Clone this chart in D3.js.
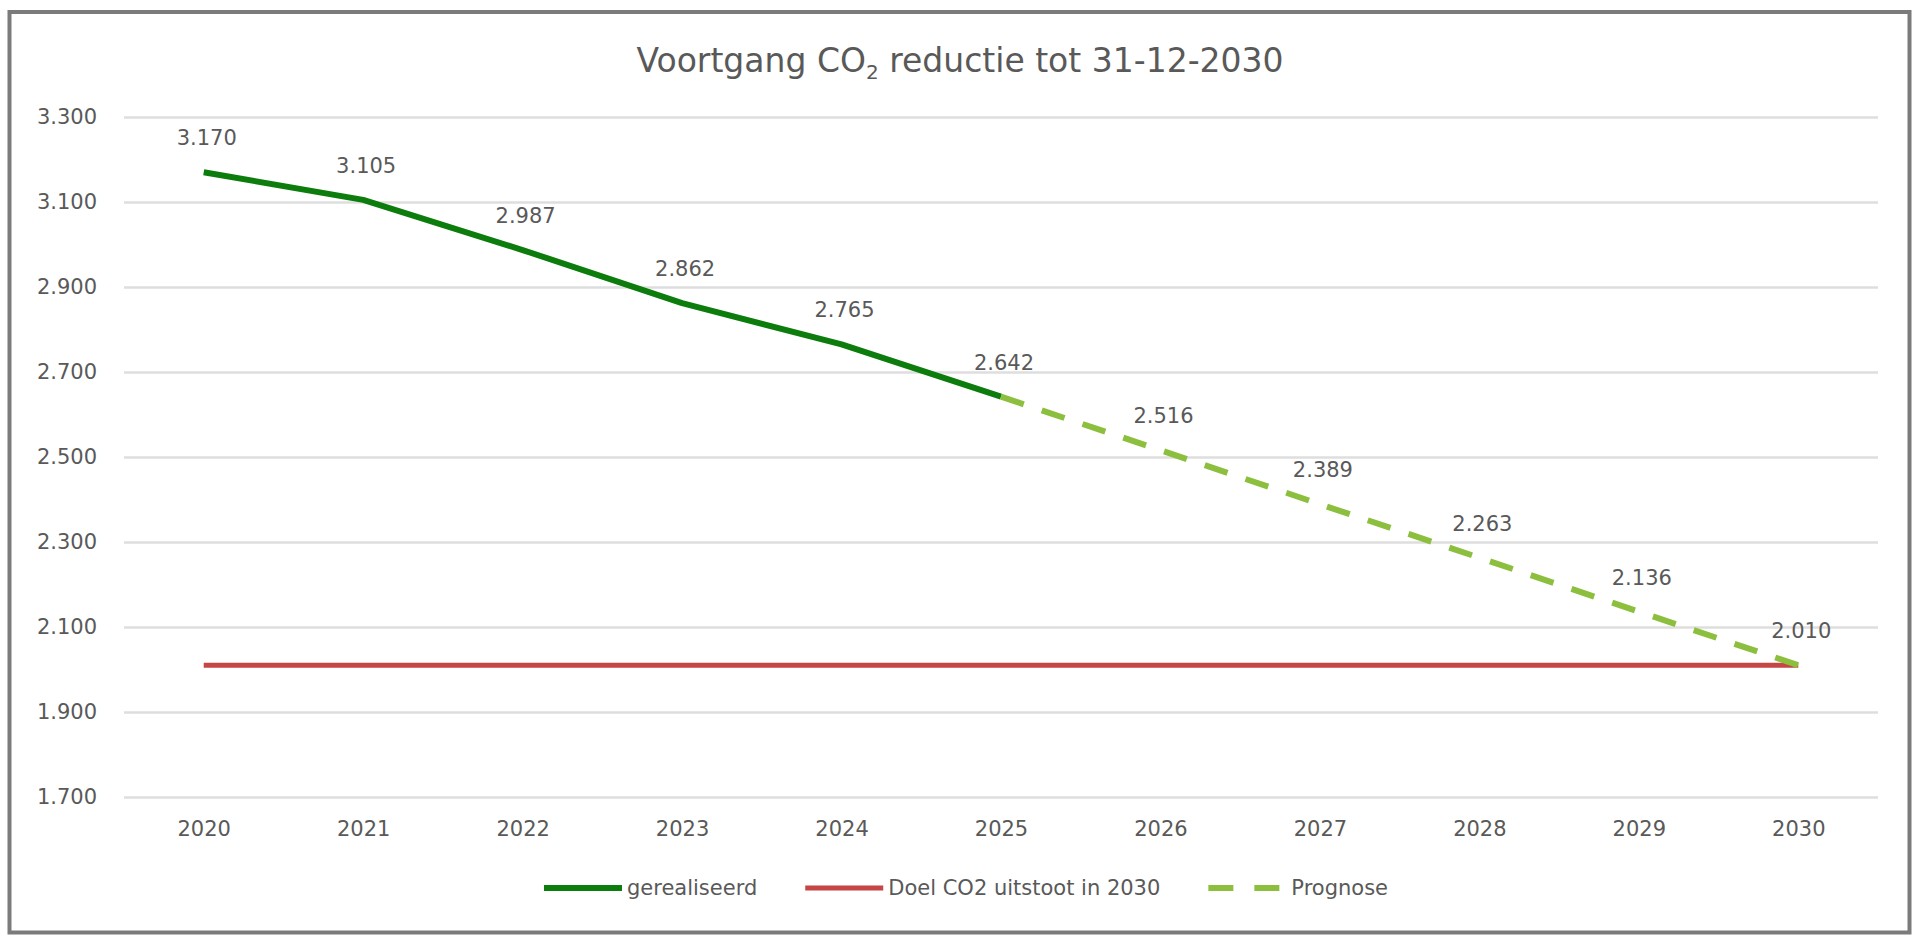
<!DOCTYPE html>
<html>
<head>
<meta charset="utf-8">
<script src="https://cdn.jsdelivr.net/npm/d3@7"></script>
<style>
  html, body { margin: 0; padding: 0; background: #ffffff; }
  svg { display: block; }
  text { font-family: "DejaVu Sans", sans-serif; fill: #595959; }
</style>
</head>
<body>
<div id="chart"></div>
<script>
// data
const years = ["2020", "2021", "2022", "2023", "2024", "2025", "2026", "2027", "2028", "2029", "2030"];
const gerealiseerd = [3170, 3105, 2987, 2862, 2765, 2642];
const prognoseYears = ["2025", "2026", "2027", "2028", "2029", "2030"];
const prognose = [2642, 2516, 2389, 2263, 2136, 2010];
const doel = 2010;
const yTicks = [1700, 1900, 2100, 2300, 2500, 2700, 2900, 3100, 3300];
const legendLabels = ["gerealiseerd", "Doel CO2 uitstoot in 2030", "Prognose"];

let cfg = {
  width: 1920,
  height: 946,
  plot: { left: 124, right: 1878, top: 117, bottom: 797 },
  darkGreen: "#0c7c0c",
  lightGreen: "#8dbf3e",
  red: "#c64545",
  grid: "#dedede",
  fontSize: 21
};

const nl = d3.formatLocale({ decimal: ",", thousands: ".", grouping: [3], currency: ["€", ""] });
const fmt = nl.format(",.0f");

const svg = d3.select("#chart").append("svg")
  .attr("width", cfg.width)
  .attr("height", cfg.height);

svg.append("rect")
  .attr("x", 9.5)
  .attr("y", 12)
  .attr("width", 1900)
  .attr("height", 920.5)
  .attr("fill", "#ffffff")
  .attr("stroke", "#7b7b7b")
  .attr("stroke-width", 4);

const x = d3.scalePoint()
  .domain(years)
  .range([cfg.plot.left, cfg.plot.right])
  .padding(0.5);

const y = d3.scaleLinear()
  .domain([1700, 3300])
  .range([cfg.plot.bottom, cfg.plot.top]);

// title
const title = svg.append("text")
  .attr("x", 960)
  .attr("y", 72)
  .attr("text-anchor", "middle")
  .style("font-size", "33px");
title.append("tspan").text("Voortgang CO");
title.append("tspan").attr("dy", 7).style("font-size", "20px").text("2");
title.append("tspan").attr("dy", -7).text(" reductie tot 31-12-2030");

// gridlines + y labels
const yAxis = d3.axisLeft(y)
  .tickValues(yTicks)
  .tickFormat(fmt)
  .tickSize(-(cfg.plot.right - cfg.plot.left))
  .tickPadding(27);

const yG = svg.append("g")
  .attr("transform", `translate(${cfg.plot.left},0)`)
  .call(yAxis);
yG.select(".domain").remove();
yG.selectAll(".tick line").attr("stroke", cfg.grid).attr("stroke-width", 2.5);
yG.selectAll(".tick text")
  .attr("fill", "#595959")
  .style("font-size", cfg.fontSize + "px")
  .style("font-family", "DejaVu Sans, sans-serif");

// x labels
const xAxis = d3.axisBottom(x).tickSize(0).tickPadding(24);
const xG = svg.append("g")
  .attr("transform", `translate(0,${cfg.plot.bottom})`)
  .call(xAxis);
xG.select(".domain").remove();
xG.selectAll(".tick text")
  .attr("fill", "#595959")
  .style("font-size", cfg.fontSize + "px")
  .style("font-family", "DejaVu Sans, sans-serif");

// target line
svg.append("line")
  .attr("x1", x(years[0]))
  .attr("x2", x(years[years.length - 1]))
  .attr("y1", y(doel))
  .attr("y2", y(doel))
  .attr("stroke", cfg.red)
  .attr("stroke-width", 5);

const line = d3.line()
  .x(d => x(d[0]))
  .y(d => y(d[1]));

const realData = gerealiseerd.map((v, i) => [years[i], v]);
const progData = prognose.map((v, i) => [prognoseYears[i], v]);

svg.append("path")
  .attr("d", line(realData))
  .attr("fill", "none")
  .attr("stroke", cfg.darkGreen)
  .attr("stroke-width", 6)
  .attr("stroke-linejoin", "round");

svg.append("path")
  .attr("d", line(progData))
  .attr("fill", "none")
  .attr("stroke", cfg.lightGreen)
  .attr("stroke-width", 6)
  .attr("stroke-dasharray", "24,19");

// data labels
const labelData = realData.concat(progData.slice(1));
svg.selectAll(".dlabel")
  .data(labelData)
  .enter()
  .append("text")
  .attr("class", "dlabel")
  .attr("x", d => x(d[0]) + 3)
  .attr("y", d => y(d[1]) - 27)
  .attr("text-anchor", "middle")
  .style("font-size", cfg.fontSize + "px")
  .text(d => fmt(d[1]));

// legend
const legend = svg.append("g");
const swatch = 78, textGap = 5, itemGap = 48, legendY = 888;
const items = legendLabels.map((label, i) => {
  const g = legend.append("g");
  const sw = g.append("line")
    .attr("x1", 0).attr("x2", swatch)
    .attr("y1", 0).attr("y2", 0)
    .attr("stroke-width", 6);
  if (i === 0) sw.attr("stroke", cfg.darkGreen);
  if (i === 1) sw.attr("stroke", cfg.red).attr("stroke-width", 5);
  if (i === 2) sw.attr("stroke", cfg.lightGreen).attr("stroke-dasharray", "25,21");
  const t = g.append("text")
    .attr("x", swatch + textGap)
    .attr("y", 7)
    .style("font-size", cfg.fontSize + "px")
    .text(label);
  return { g: g, w: swatch + textGap + t.node().getComputedTextLength() };
});
const total = d3.sum(items, d => d.w) + itemGap * (items.length - 1);
let cx = 966 - total / 2;
items.forEach(d => {
  d.g.attr("transform", `translate(${cx},${legendY})`);
  cx += d.w + itemGap;
});
</script>
</body>
</html>
